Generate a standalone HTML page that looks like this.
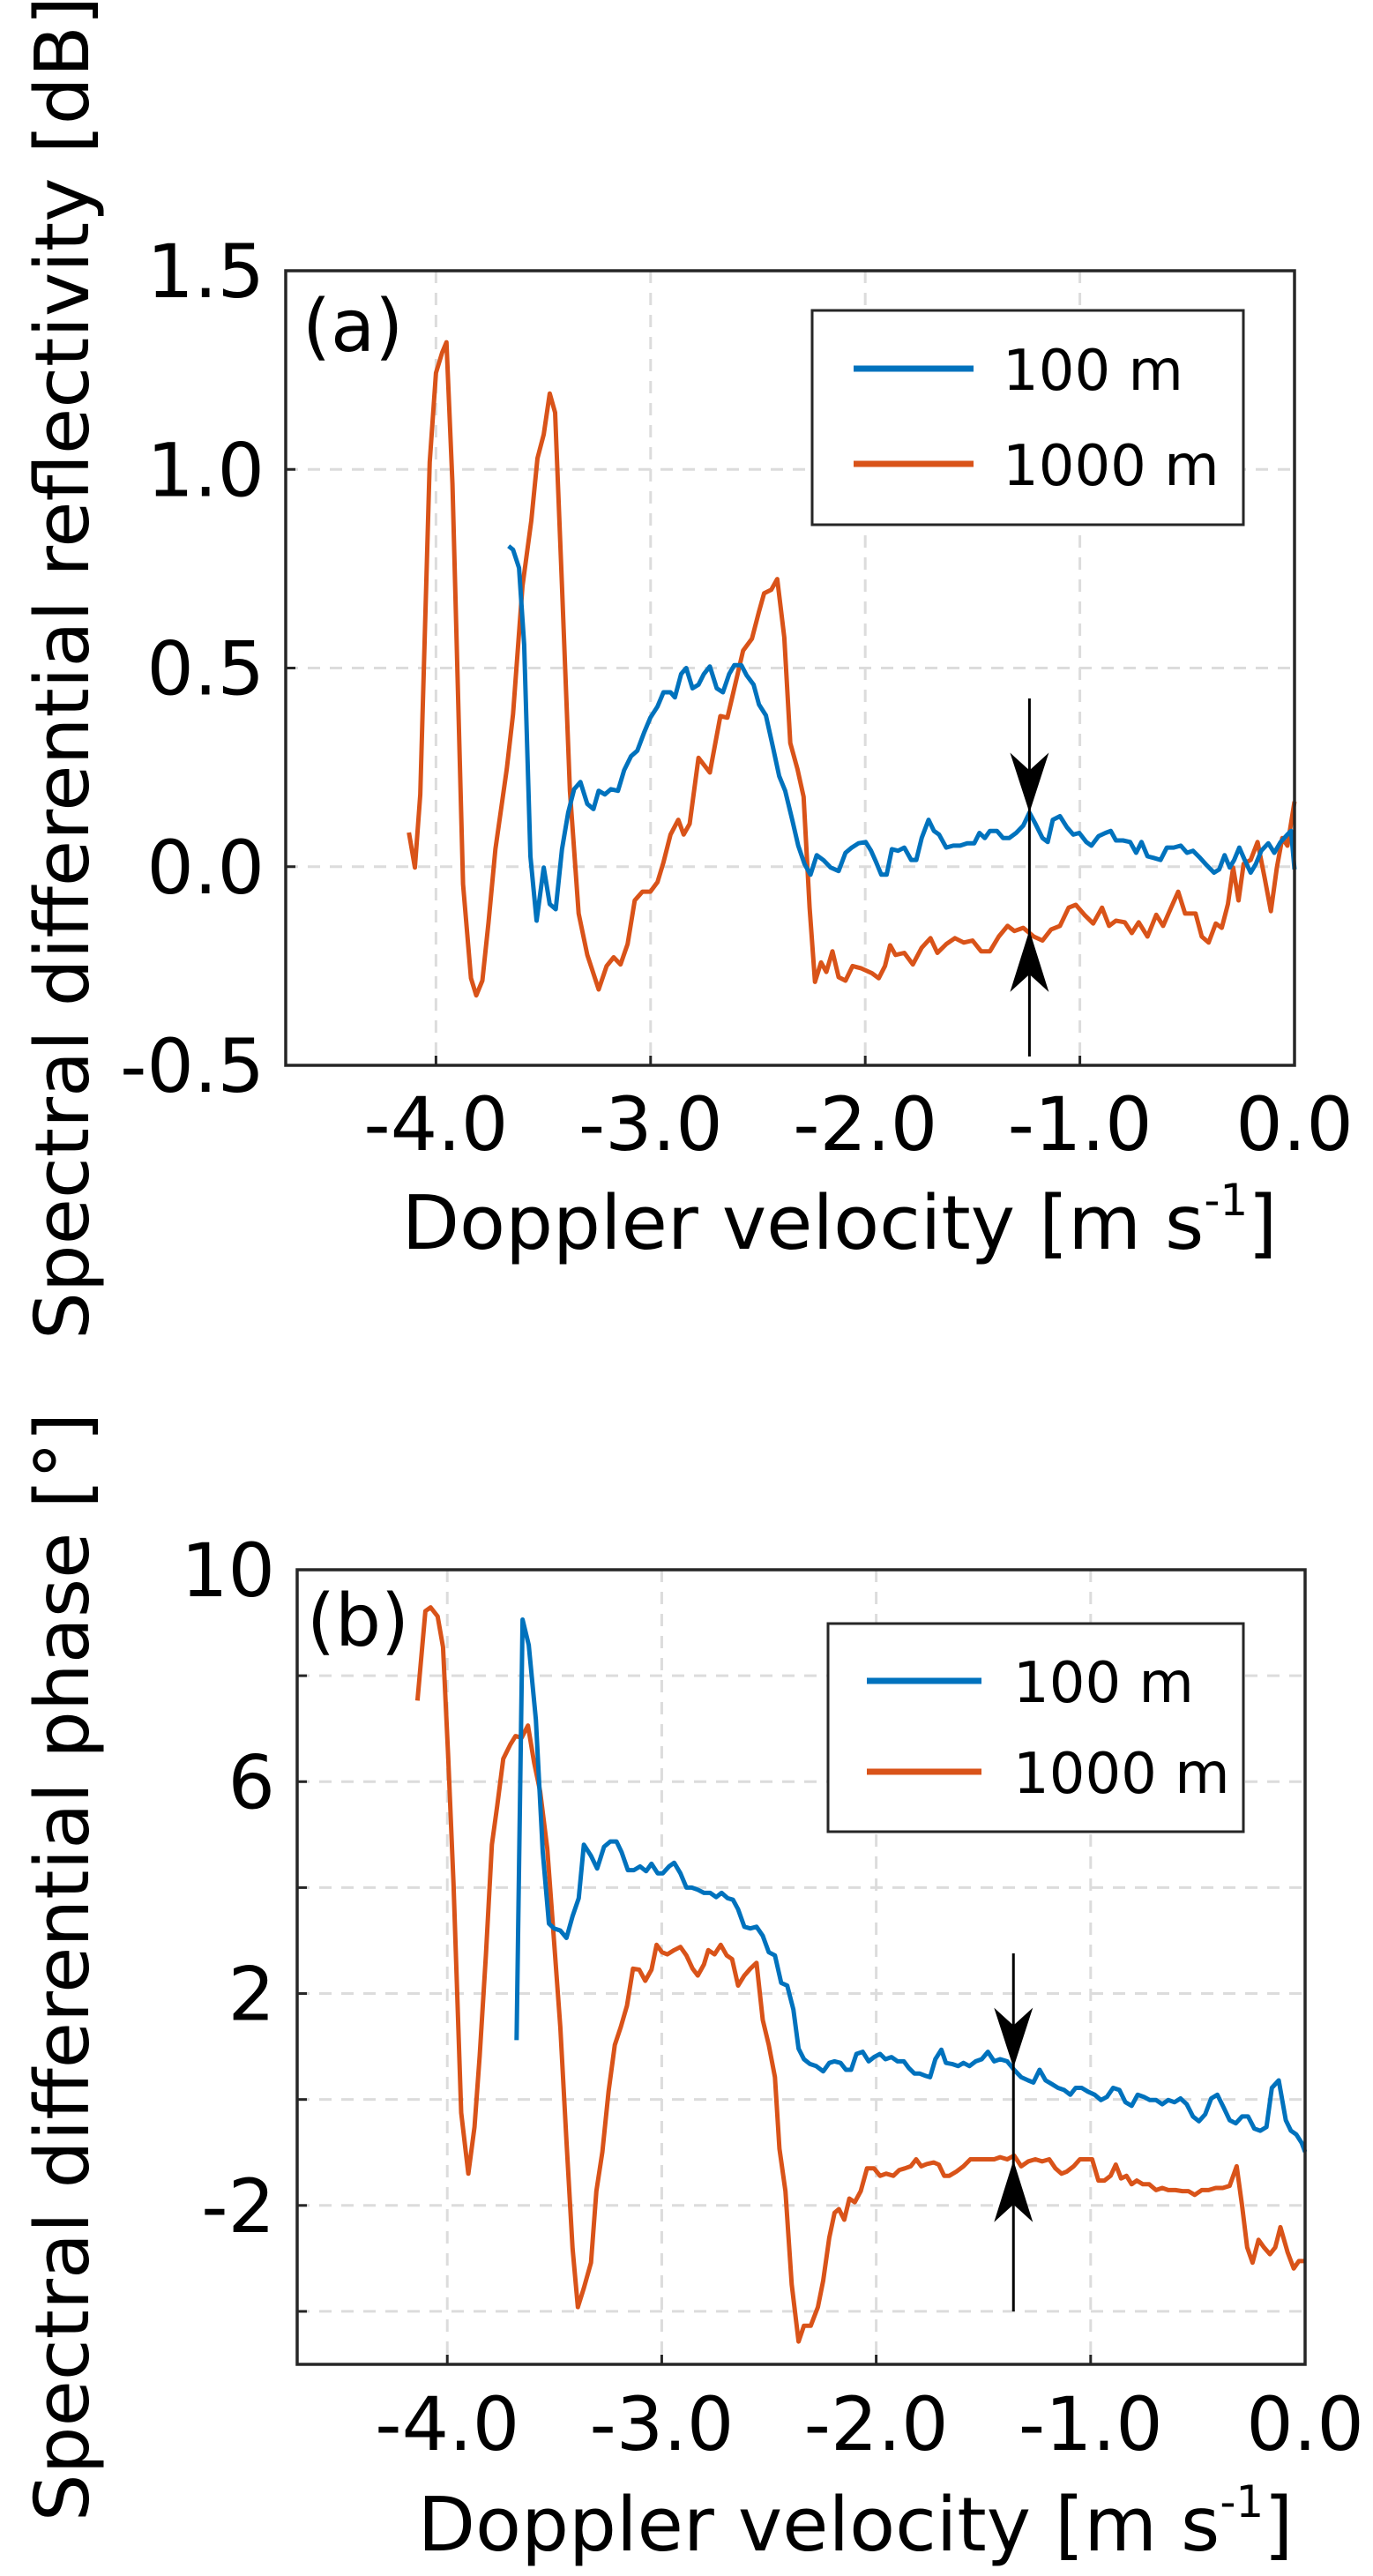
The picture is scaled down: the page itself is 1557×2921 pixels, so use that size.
<!DOCTYPE html>
<html><head><meta charset="utf-8">
<style>
html,body{margin:0;padding:0;background:#fff;}
svg{display:block;font-family:"DejaVu Sans","Liberation Sans",sans-serif;}
</style></head>
<body>
<svg id="fig" width="1557" height="2921" viewBox="0 0 1557 2921" xmlns="http://www.w3.org/2000/svg"></svg>
<script>
// ---- Panel (a) data: spectral differential reflectivity [dB] ----
const aBlueV = [-3.662,-3.641,-3.613,-3.589,-3.56,-3.531,-3.498,-3.47,-3.442,-3.413,-3.384,-3.356,-3.327,-3.295,-3.266,-3.242,-3.213,-3.185,-3.152,-3.123,-3.091,-3.062,-3.03,-3.001,-2.968,-2.94,-2.907,-2.887,-2.858,-2.834,-2.805,-2.777,-2.752,-2.724,-2.692,-2.663,-2.634,-2.61,-2.577,-2.553,-2.52,-2.495,-2.463,-2.43,-2.401,-2.373,-2.34,-2.312,-2.283,-2.255,-2.226,-2.194,-2.161,-2.124,-2.092,-2.063,-2.031,-1.998,-1.973,-1.949,-1.925,-1.9,-1.876,-1.847,-1.818,-1.786,-1.762,-1.737,-1.705,-1.68,-1.656,-1.623,-1.59,-1.558,-1.525,-1.492,-1.468,-1.443,-1.419,-1.386,-1.358,-1.329,-1.297,-1.264,-1.235,-1.207,-1.174,-1.15,-1.126,-1.093,-1.06,-1.031,-1.003,-0.97,-0.946,-0.913,-0.881,-0.856,-0.832,-0.799,-0.766,-0.738,-0.713,-0.685,-0.656,-0.624,-0.595,-0.563,-0.53,-0.501,-0.473,-0.44,-0.408,-0.375,-0.351,-0.326,-0.302,-0.281,-0.257,-0.232,-0.204,-0.18,-0.155,-0.122,-0.094,-0.065,-0.033,-0.016,0.0];
const aBlueY = [0.807,0.798,0.752,0.559,0.026,-0.136,-0.002,-0.094,-0.107,0.044,0.136,0.195,0.213,0.158,0.145,0.191,0.182,0.195,0.191,0.243,0.278,0.292,0.338,0.375,0.403,0.439,0.439,0.426,0.485,0.5,0.449,0.458,0.485,0.504,0.449,0.439,0.485,0.507,0.507,0.482,0.458,0.408,0.381,0.301,0.228,0.191,0.118,0.053,0.007,-0.02,0.029,0.016,-0.002,-0.011,0.035,0.048,0.059,0.062,0.04,0.011,-0.02,-0.02,0.044,0.04,0.048,0.017,0.017,0.072,0.118,0.09,0.081,0.048,0.053,0.053,0.059,0.059,0.085,0.072,0.09,0.09,0.072,0.072,0.085,0.103,0.136,0.108,0.072,0.062,0.118,0.127,0.099,0.081,0.085,0.062,0.053,0.077,0.085,0.09,0.066,0.066,0.062,0.035,0.062,0.026,0.022,0.017,0.048,0.048,0.053,0.035,0.04,0.022,0.003,-0.015,-0.007,0.029,-0.002,0.017,0.048,0.017,-0.015,0.007,0.04,0.059,0.035,0.062,0.081,0.09,-0.007];
const aOrangeV = [-4.126,-4.098,-4.073,-4.029,-4.0,-3.971,-3.951,-3.923,-3.874,-3.837,-3.812,-3.784,-3.755,-3.723,-3.67,-3.641,-3.597,-3.556,-3.527,-3.498,-3.47,-3.445,-3.413,-3.376,-3.335,-3.295,-3.242,-3.205,-3.172,-3.14,-3.107,-3.074,-3.038,-3.001,-2.968,-2.94,-2.907,-2.871,-2.846,-2.818,-2.777,-2.724,-2.675,-2.642,-2.61,-2.569,-2.528,-2.495,-2.471,-2.438,-2.41,-2.377,-2.349,-2.316,-2.287,-2.259,-2.234,-2.206,-2.181,-2.153,-2.124,-2.092,-2.059,-2.018,-1.969,-1.937,-1.908,-1.884,-1.859,-1.818,-1.778,-1.737,-1.696,-1.664,-1.623,-1.582,-1.541,-1.5,-1.46,-1.419,-1.378,-1.337,-1.305,-1.264,-1.215,-1.174,-1.134,-1.093,-1.052,-1.019,-0.979,-0.938,-0.897,-0.864,-0.832,-0.791,-0.758,-0.726,-0.685,-0.644,-0.612,-0.575,-0.542,-0.51,-0.461,-0.432,-0.4,-0.367,-0.339,-0.31,-0.286,-0.261,-0.237,-0.204,-0.172,-0.139,-0.11,-0.082,-0.057,-0.033,0.0];
const aOrangeY = [0.086,-0.002,0.182,1.018,1.243,1.294,1.32,0.963,-0.044,-0.281,-0.324,-0.287,-0.14,0.044,0.246,0.384,0.706,0.871,1.028,1.088,1.191,1.143,0.706,0.191,-0.118,-0.222,-0.309,-0.25,-0.228,-0.246,-0.195,-0.085,-0.063,-0.063,-0.039,0.011,0.081,0.118,0.081,0.108,0.274,0.237,0.379,0.375,0.449,0.544,0.574,0.642,0.688,0.697,0.724,0.577,0.311,0.246,0.176,-0.103,-0.29,-0.241,-0.265,-0.213,-0.278,-0.287,-0.25,-0.256,-0.268,-0.281,-0.25,-0.198,-0.222,-0.217,-0.246,-0.204,-0.18,-0.217,-0.195,-0.18,-0.191,-0.186,-0.213,-0.213,-0.176,-0.149,-0.162,-0.154,-0.176,-0.186,-0.158,-0.149,-0.103,-0.096,-0.121,-0.143,-0.103,-0.149,-0.136,-0.14,-0.167,-0.14,-0.176,-0.121,-0.149,-0.103,-0.063,-0.118,-0.118,-0.176,-0.191,-0.143,-0.154,-0.094,-0.002,-0.085,0.007,0.017,0.062,-0.029,-0.112,-0.002,0.072,0.053,0.164];
const aYTicks = [1.5, 1.0, 0.5, 0.0, -0.5];
const aYTickLabels = ["1.5","1.0","0.5","0.0","-0.5"];
const aArrowV = -1.235, aArrowTop = 0.136, aArrowBot = -0.16;

// ---- Panel (b) data: spectral differential phase [deg] ----
const bBlueV = [-3.677,-3.649,-3.62,-3.587,-3.555,-3.526,-3.502,-3.473,-3.444,-3.416,-3.387,-3.363,-3.33,-3.301,-3.269,-3.24,-3.211,-3.187,-3.158,-3.13,-3.101,-3.073,-3.048,-3.019,-2.995,-2.966,-2.942,-2.913,-2.885,-2.86,-2.832,-2.803,-2.774,-2.746,-2.721,-2.693,-2.668,-2.644,-2.615,-2.587,-2.558,-2.529,-2.501,-2.472,-2.443,-2.415,-2.386,-2.362,-2.337,-2.309,-2.28,-2.247,-2.219,-2.194,-2.166,-2.141,-2.117,-2.092,-2.063,-2.035,-2.01,-1.982,-1.957,-1.929,-1.9,-1.871,-1.847,-1.822,-1.798,-1.773,-1.749,-1.724,-1.696,-1.675,-1.647,-1.618,-1.593,-1.565,-1.536,-1.508,-1.479,-1.45,-1.422,-1.389,-1.357,-1.324,-1.291,-1.267,-1.238,-1.21,-1.181,-1.152,-1.124,-1.095,-1.07,-1.042,-1.013,-0.981,-0.952,-0.924,-0.895,-0.866,-0.838,-0.809,-0.781,-0.752,-0.724,-0.695,-0.666,-0.638,-0.609,-0.581,-0.552,-0.523,-0.495,-0.466,-0.438,-0.409,-0.38,-0.352,-0.323,-0.294,-0.266,-0.237,-0.209,-0.18,-0.155,-0.123,-0.09,-0.066,-0.041,-0.016,0.0];
const bBlueY = [1.12,9.06,8.58,7.17,4.67,3.32,3.23,3.19,3.05,3.46,3.8,4.81,4.6,4.36,4.77,4.87,4.87,4.67,4.33,4.33,4.4,4.31,4.45,4.27,4.27,4.4,4.47,4.27,4.0,4.0,3.96,3.9,3.9,3.82,3.9,3.8,3.77,3.59,3.26,3.23,3.26,3.09,2.78,2.72,2.2,2.15,1.7,0.96,0.76,0.67,0.63,0.53,0.69,0.72,0.69,0.56,0.56,0.86,0.9,0.72,0.8,0.86,0.76,0.8,0.72,0.72,0.59,0.49,0.49,0.45,0.42,0.76,0.94,0.69,0.67,0.63,0.69,0.63,0.72,0.76,0.9,0.72,0.76,0.72,0.56,0.42,0.36,0.32,0.56,0.36,0.29,0.22,0.18,0.09,0.22,0.22,0.15,0.09,-0.01,0.05,0.22,0.18,-0.05,-0.12,0.09,0.05,-0.01,-0.01,-0.09,-0.01,-0.05,0.02,-0.09,-0.32,-0.41,-0.28,0.02,0.09,-0.15,-0.39,-0.45,-0.32,-0.32,-0.55,-0.59,-0.52,0.22,0.36,-0.39,-0.59,-0.66,-0.82,-0.99];
const bOrangeV = [-4.139,-4.102,-4.078,-4.045,-4.02,-3.996,-3.971,-3.935,-3.902,-3.873,-3.849,-3.82,-3.792,-3.767,-3.739,-3.706,-3.682,-3.653,-3.624,-3.595,-3.567,-3.534,-3.502,-3.473,-3.444,-3.416,-3.391,-3.363,-3.33,-3.305,-3.277,-3.248,-3.219,-3.191,-3.162,-3.134,-3.105,-3.077,-3.048,-3.024,-2.999,-2.974,-2.942,-2.913,-2.885,-2.856,-2.832,-2.803,-2.783,-2.754,-2.725,-2.697,-2.672,-2.644,-2.615,-2.587,-2.558,-2.529,-2.501,-2.472,-2.451,-2.423,-2.394,-2.362,-2.337,-2.305,-2.272,-2.247,-2.219,-2.194,-2.174,-2.149,-2.125,-2.1,-2.072,-2.043,-2.01,-1.982,-1.953,-1.92,-1.892,-1.867,-1.839,-1.814,-1.79,-1.765,-1.732,-1.708,-1.683,-1.659,-1.626,-1.593,-1.561,-1.528,-1.491,-1.45,-1.422,-1.389,-1.357,-1.324,-1.291,-1.258,-1.226,-1.193,-1.164,-1.136,-1.111,-1.079,-1.05,-1.021,-0.993,-0.964,-0.936,-0.907,-0.883,-0.858,-0.833,-0.809,-0.785,-0.756,-0.727,-0.695,-0.666,-0.638,-0.605,-0.572,-0.544,-0.515,-0.482,-0.45,-0.417,-0.384,-0.352,-0.319,-0.294,-0.27,-0.245,-0.217,-0.192,-0.164,-0.139,-0.115,-0.082,-0.053,-0.029,0.0];
const bOrangeY = [7.53,9.22,9.29,9.12,8.54,6.49,4.07,-0.25,-1.4,-0.52,0.83,2.72,4.81,5.55,6.43,6.7,6.86,6.83,7.06,6.36,5.82,4.74,2.99,1.37,-0.79,-2.81,-3.92,-3.56,-3.08,-1.73,-0.99,0.15,1.03,1.37,1.77,2.47,2.45,2.24,2.45,2.92,2.78,2.74,2.82,2.88,2.72,2.47,2.34,2.55,2.82,2.74,2.92,2.72,2.65,2.15,2.34,2.47,2.58,1.5,1.03,0.42,-0.93,-1.73,-3.49,-4.57,-4.27,-4.27,-3.92,-3.42,-2.61,-2.14,-2.07,-2.27,-1.87,-1.94,-1.73,-1.3,-1.3,-1.44,-1.4,-1.44,-1.33,-1.3,-1.26,-1.13,-1.26,-1.22,-1.19,-1.23,-1.44,-1.44,-1.36,-1.26,-1.13,-1.13,-1.13,-1.13,-1.09,-1.13,-1.06,-1.26,-1.17,-1.13,-1.17,-1.13,-1.3,-1.4,-1.36,-1.26,-1.13,-1.13,-1.13,-1.53,-1.53,-1.44,-1.23,-1.49,-1.44,-1.6,-1.53,-1.6,-1.6,-1.71,-1.67,-1.71,-1.71,-1.73,-1.73,-1.8,-1.71,-1.71,-1.67,-1.67,-1.63,-1.26,-2.0,-2.79,-3.08,-2.65,-2.79,-2.92,-2.79,-2.41,-2.88,-3.19,-3.05,-3.05];
const bYGrid = [8, 6, 4, 2, 0, -2, -4];
const bYTicks = [10, 6, 2, -2];
const bYTickLabels = ["10","6","2","-2"];
const bArrowV = -1.36, bArrowTop = 0.6, bArrowBot = -1.15;

const xGrid = [-4, -3, -2, -1];
const xTicks = [-4, -3, -2, -1, 0];
const xTickLabels = ["-4.0","-3.0","-2.0","-1.0","0.0"];

const NS = "http://www.w3.org/2000/svg";
const svg = document.getElementById('fig');
function mk(tag, attrs, parent, txt){
  const e = document.createElementNS(NS, tag);
  for (const k in attrs) e.setAttribute(k, attrs[k]);
  if (txt !== undefined) e.textContent = txt;
  (parent || svg).appendChild(e);
  return e;
}

function panel(cfg){
  const g = mk('g', {});
  
  
  const L = cfg.L, R = cfg.R, T = cfg.T, B = cfg.B;
  const xs = v => R + (v - 0) * (R - L) / (0 - (-4.7));
  const ys = y => T + (cfg.ymax - y) * (B - T) / (cfg.ymax - cfg.ymin);
  xGrid.forEach(v => {
    const l = mk('line', {x1: xs(v), x2: xs(v), y1: T, y2: B, stroke: '#dcdcdc', 'stroke-width': 3, 'stroke-dasharray': '14 11'}, g);
    
    
  });
  cfg.yGrid.forEach(y => {
    if (y >= cfg.ymax || y <= cfg.ymin) return;
    const l = mk('line', {x1: L, x2: R, y1: ys(y), y2: ys(y), stroke: '#dcdcdc', 'stroke-width': 3, 'stroke-dasharray': '14 11'}, g);
    
    
    const t = mk('line', {x1: L, x2: L + 11, y1: ys(y), y2: ys(y), stroke: '#262626', 'stroke-width': 3}, g);
    
    
  });
  xGrid.forEach(v => {
    const t = mk('line', {x1: xs(v), x2: xs(v), y1: B, y2: B - 11, stroke: '#262626', 'stroke-width': 3}, g);
    
    
  });
  function series(V, Y, color, nm){
    let d = '';
    V.forEach((v, i) => { d += (i ? 'L' : 'M') + xs(v).toFixed(1) + ',' + ys(Y[i]).toFixed(1); });
    const p = mk('path', {d: d, fill: 'none', stroke: color, 'stroke-width': 5, 'stroke-linejoin': 'round'}, g);
    
    
  }
  series(cfg.oV, cfg.oY, '#D95319', 'series-1000m');
  series(cfg.bV, cfg.bY, '#0072BD', 'series-100m');
  const ax = xs(cfg.arrV);
  const al = mk('line', {x1: ax, x2: ax, y1: cfg.arrLineTop, y2: cfg.arrLineBot, stroke: '#000', 'stroke-width': 3}, g);
  
  
  const yt = ys(cfg.arrTop), yb = ys(cfg.arrBot);
  const a1 = mk('path', {d: `M${ax},${yt} L${ax-22},${yt-68} L${ax},${yt-48} L${ax+22},${yt-68} Z`, fill: '#000'}, g);
  
  
  const a2 = mk('path', {d: `M${ax},${yb} L${ax-22},${yb+70} L${ax},${yb+50} L${ax+22},${yb+70} Z`, fill: '#000'}, g);
  
  
  const fr = mk('rect', {x: L, y: T, width: R - L, height: B - T, fill: 'none', stroke: '#262626', 'stroke-width': 3.5}, g);
  
  
  cfg.yTicks.forEach((y, i) => {
    const t = mk('text', {x: cfg.yLabelX, y: ys(y) + 30, 'text-anchor': 'end', 'font-size': 84, fill: '#000'}, g, cfg.yTickLabels[i]);
    
    
  });
  xTicks.forEach((v, i) => {
    const t = mk('text', {x: xs(v), y: cfg.xLabelY, 'text-anchor': 'middle', 'font-size': 84, fill: '#000'}, g, xTickLabels[i]);
    
    
  });
  const xt = mk('text', {x: cfg.xTitleX, y: cfg.xTitleY, 'text-anchor': 'middle', 'font-size': 85, fill: '#000'}, g);
  
  
  xt.appendChild(document.createTextNode('Doppler velocity [m s'));
  mk('tspan', {'font-size': 50, dy: -38}, xt, '-1');
  mk('tspan', {dy: 38}, xt, ']');
  const cy = (T + B) / 2;
  const yt2 = mk('text', {x: 0, y: 0, 'text-anchor': 'middle', 'font-size': 85, fill: '#000', transform: `translate(${cfg.yTitleX},${cy}) rotate(-90)`}, g, cfg.yTitle);
  
  
  const pl = mk('text', {x: cfg.plX, y: cfg.plY, 'font-size': 82, fill: '#000'}, g, cfg.label);
  
  
  const lg = mk('g', {}, g);
  
  
  const lb = cfg.leg;
  mk('rect', {x: lb.x1, y: lb.y1, width: lb.x2 - lb.x1, height: lb.y2 - lb.y1, fill: '#fff', stroke: '#262626', 'stroke-width': 3}, lg);
  [['100 m', '#0072BD', lb.l1], ['1000 m', '#D95319', lb.l2]].forEach(e => {
    const eg = mk('g', {}, lg);
    
    
    mk('line', {x1: lb.lx1, x2: lb.lx2, y1: e[2], y2: e[2], stroke: e[1], 'stroke-width': 7}, eg);
    mk('text', {x: lb.tx, y: e[2] + 24, 'font-size': 64, fill: '#000'}, eg, e[0]);
  });
}

panel({name: 'panel-a', L: 324, R: 1468, T: 307, B: 1208, ymin: -0.5, ymax: 1.5,
  yGrid: [1.0, 0.5, 0.0], yTicks: aYTicks, yTickLabels: aYTickLabels, yLabelX: 300, xLabelY: 1304,
  xTitleX: 952, xTitleY: 1416, yTitleX: 100, yTitle: 'Spectral differential reflectivity [dB]',
  plX: 343, plY: 398, label: '(a)',
  oV: aOrangeV, oY: aOrangeY, bV: aBlueV, bY: aBlueY,
  arrV: aArrowV, arrTop: aArrowTop, arrBot: aArrowBot, arrLineTop: 792, arrLineBot: 1198,
  leg: {x1: 921, y1: 352, x2: 1410, y2: 595, l1: 418, l2: 526, lx1: 968, lx2: 1104, tx: 1137}});

panel({name: 'panel-b', L: 337, R: 1480, T: 1780, B: 2681, ymin: -5, ymax: 10,
  yGrid: bYGrid, yTicks: bYTicks, yTickLabels: bYTickLabels, yLabelX: 312, xLabelY: 2778,
  xTitleX: 970, xTitleY: 2892, yTitleX: 100, yTitle: 'Spectral differential phase [°]',
  plX: 348, plY: 1866, label: '(b)',
  oV: bOrangeV, oY: bOrangeY, bV: bBlueV, bY: bBlueY,
  arrV: bArrowV, arrTop: bArrowTop, arrBot: bArrowBot, arrLineTop: 2215, arrLineBot: 2621,
  leg: {x1: 939, y1: 1841, x2: 1410, y2: 2077, l1: 1906, l2: 2009, lx1: 983, lx2: 1113, tx: 1149}});
</script>
</body></html>
